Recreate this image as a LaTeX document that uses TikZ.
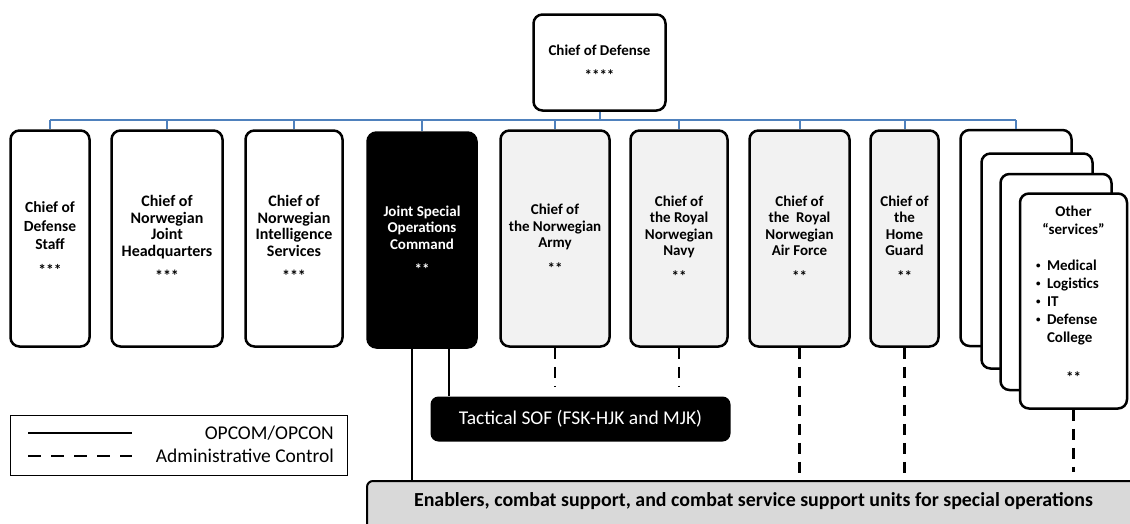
\documentclass[tikz,border=0pt]{standalone}
\usepackage{fontspec}
\setmainfont{Carlito}

\definecolor{busblue}{RGB}{79,129,189}
\definecolor{servfill}{RGB}{242,242,242}
\definecolor{barfill}{RGB}{217,217,217}

\newcommand{\svcdot}{\raisebox{1.5pt}{\scalebox{0.6}{\textbullet}}}
\newcommand{\svcitem}[1]{\makebox[75pt][l]{\makebox[11pt][l]{\svcdot}#1}}
\newcommand{\svcmore}[1]{\makebox[75pt][l]{\hspace{11pt}#1}}

\begin{document}
\begin{tikzpicture}[x=1pt, y=-1pt,
    chief/.style={draw, line width=2.5pt, rounded corners=9pt, fill=white,
      align=center, inner sep=2pt, minimum height=216pt,
      font=\bfseries\fontsize{15}{16.5}\selectfont},
    service/.style={chief, fill=servfill},
    jointcmd/.style={chief, fill=black, text=white},
    bus/.style={draw=busblue, line width=2pt},
    opcon/.style={draw, line width=2.5pt},
    admin/.style={draw, line width=2.5pt, dash pattern=on 11pt off 8pt},
    legtext/.style={font=\fontsize{19.5}{22}\selectfont, inner sep=0pt}]

  \useasboundingbox (0,0) rectangle (1130,523);

  % Top of the chain
  \node[chief, minimum width=132pt, minimum height=96pt] (cod) at (599.5, 62.5)
    {Chief of Defense\\[8pt]****};

  % Level below the Chief of Defense
  \node[chief, minimum width=79pt, font=\bfseries\fontsize{15.5}{18.5}\selectfont] (dstaff) at (50, 238.5)
    {Chief of\\Defense\\Staff\\[7pt]***};
  \node[chief, minimum width=111pt, font=\bfseries\fontsize{16}{16.5}\selectfont] (njhq) at (167, 238.5)
    {Chief of\\Norwegian\\Joint\\Headquarters\\[9pt]***};
  \node[chief, minimum width=97pt, font=\bfseries\fontsize{16}{16.5}\selectfont] (nis) at (294, 238.5)
    {Chief of\\Norwegian\\Intelligence\\Services\\[9pt]***};
  \node[jointcmd, minimum width=109pt, minimum height=215pt] (jsoc) at (422, 240)
    {Joint Special\\Operations\\Command\\[9pt]**};
  \node[service, minimum width=109pt] (army) at (555, 238.5)
    {Chief of\\the Norwegian\\Army\\[9pt]**};
  \node[service, minimum width=97pt] (navy) at (679, 238.5)
    {Chief of\\the Royal\\Norwegian\\Navy\\[9pt]**};
  \node[service, minimum width=100pt] (raf) at (799.5, 238.5)
    {Chief of\\the\ \ Royal\\Norwegian\\Air Force\\[9pt]**};
  \node[service, minimum width=68pt] (hg) at (904.5, 238.5)
    {Chief of\\the\\Home\\Guard\\[9pt]**};

  % Stack of other services
  \node[chief, minimum width=111pt] (oth1) at (1016, 238) {};
  \node[chief, minimum width=111pt, minimum height=215pt] (oth2) at (1037, 261) {};
  \node[chief, minimum width=111pt] (oth3) at (1056, 282) {};
  \node[chief, minimum width=107pt, minimum height=215pt] (oth4) at (1073.5, 301) {};
  \node[align=center, font=\bfseries\fontsize{15}{18}\selectfont] (othtxt) at ([yshift=7pt]oth4.center)
    {Other\\“services”\\[18pt]\svcitem{Medical}\\\svcitem{Logistics}\\\svcitem{IT}\\
     \svcitem{Defense}\\\svcmore{College}\\[22pt]**};

  % Units
  \node[fill=black, rounded corners=8pt, minimum width=300pt, minimum height=45pt,
        text=white, font=\fontsize{19.5}{22}\selectfont] (tsof) at (580.5, 419)
    {Tactical SOF (FSK-HJK and MJK)};
  \node[draw, line width=2pt, fill=barfill, rounded corners=6pt, anchor=north,
        minimum width=773pt, inner sep=4pt, text height=21pt, text depth=30pt,
        font=\bfseries\fontsize{19.9}{22}\selectfont] (enab) at (753.5, 480)
    {Enablers, combat support, and combat service support units for special operations};

  % Legend
  \node[draw, line width=1.5pt, minimum width=337pt, minimum height=60pt] (legend) at (179, 445.5) {};
  \coordinate (opcA) at (28, 433);
  \coordinate (opcB) at (132, 433);
  \coordinate (admA) at (28, 456);
  \coordinate (admB) at (132, 456);
  \draw[opcon] (opcA) -- (opcB);
  \draw[line width=2.5pt, dash pattern=on 13pt off 10pt] (admA) -- (admB);
  \node[legtext, anchor=east] (opclbl) at (334, 433) {OPCOM/OPCON};
  \node[legtext, anchor=east] (admlbl) at (334, 456) {Administrative Control};

  % Command lines
  \draw[bus] (cod.south) -- (cod.south |- 0,120);
  \draw[bus] (dstaff.north |- 0,120) -- (oth1.north |- 0,120);
  \draw[bus] (dstaff.north |- 0,120) -- (dstaff.north);
  \draw[bus] (njhq.north |- 0,120) -- (njhq.north);
  \draw[bus] (nis.north |- 0,120) -- (nis.north);
  \draw[bus] (jsoc.north |- 0,120) -- (jsoc.north);
  \draw[bus] (army.north |- 0,120) -- (army.north);
  \draw[bus] (navy.north |- 0,120) -- (navy.north);
  \draw[bus] (raf.north |- 0,120) -- (raf.north);
  \draw[bus] (hg.north |- 0,120) -- (hg.north);
  \draw[bus] (oth1.north |- 0,120) -- (oth1.north);

  % OPCOM/OPCON
  \draw[opcon] ([xshift=-10pt]jsoc.south) -- ([xshift=-10pt]jsoc.south |- enab.north);
  \draw[opcon] ([xshift=27pt]jsoc.south) -- ([xshift=27pt]jsoc.south |- tsof.north);

  % Administrative control
  \draw[admin] (army.south) -- ([yshift=10pt]army.south |- tsof.north);
  \draw[admin] (navy.south) -- ([yshift=10pt]navy.south |- tsof.north);
  \draw[admin] (raf.south) -- (raf.south |- enab.north);
  \draw[admin] (hg.south) -- (hg.south |- enab.north);
  \draw[admin] (oth4.south) -- ([yshift=8pt]oth4.south |- enab.north);
\end{tikzpicture}
\end{document}
